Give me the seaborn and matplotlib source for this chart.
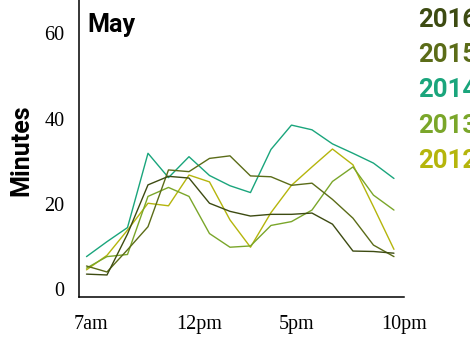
import matplotlib
matplotlib.use("Agg")
import matplotlib.pyplot as plt
import matplotlib.transforms as mtransforms
import pandas as pd
import seaborn as sns

# Minutes per hour of the day in May, by year
hours = list(range(7, 23))
years = ["2016", "2015", "2014", "2013", "2012"]
m2016 = [3.6, 3.4, 13.0, 24.5, 26.5, 26.1, 20.2, 18.3, 17.2, 17.6, 17.6, 17.9, 15.3, 9.0, 8.9, 8.5]
m2015 = [5.5, 4.1, 9.3, 14.7, 28.0, 27.6, 30.7, 31.3, 26.6, 26.4, 24.4, 24.9, 21.1, 16.7, 10.4, 7.7]
m2014 = [7.7, 11.2, 14.5, 31.9, 26.2, 31.1, 26.7, 24.3, 22.7, 32.8, 38.5, 37.4, 34.1, 31.9, 29.6, 26.0]
m2013 = [5.0, 7.7, 8.2, 21.8, 23.9, 21.8, 13.1, 9.9, 10.2, 15.0, 15.9, 18.6, 25.3, 28.7, 22.1, 18.6]
m2012 = [4.6, 8.0, 13.9, 20.2, 19.6, 26.8, 25.2, 16.3, 9.9, 18.0, 24.4, 28.7, 32.9, 29.2, 19.4, 9.4]
x_ticks = [7, 12, 17, 22]
x_labels = ["7am", "12pm", "5pm", "10pm"]
y_ticks = [0, 20, 40, 60]

colors = {"2016": "#3d4b12", "2015": "#5b6c18", "2014": "#1aa57c",
          "2013": "#7aa62a", "2012": "#b5b50c"}

df = pd.DataFrame({"hour": hours * 5,
                   "minutes": m2016 + m2015 + m2014 + m2013 + m2012,
                   "year": [y for y in years for _ in hours]})

sns.set_style("white")
W, H = 470, 339
fig = plt.figure(figsize=(W / 100, H / 100), dpi=100)
ax = fig.add_axes([78.5 / W, 42 / H, (404 - 78.5) / W, 297 / H])

sns.lineplot(data=df, x="hour", y="minutes", hue="year", palette=colors,
             hue_order=years[::-1], linewidth=1.0, legend=False, ax=ax)

ax.set_xlim(6.61, 22.49)
ax.set_ylim(-1.76, 67.8)
ax.set_xticks(x_ticks)
ax.set_xticklabels(x_labels, family="Liberation Serif", fontsize=14.5, ha="left")
ax.set_yticks(y_ticks)
ax.set_yticklabels([str(v) for v in y_ticks], family="Liberation Serif", fontsize=14.5)
ax.tick_params(axis="both", length=0, colors="black")
ax.tick_params(axis="y", pad=10)
ax.tick_params(axis="x", pad=13)
offset = mtransforms.ScaledTranslation(-12.5 / 100, 0, fig.dpi_scale_trans)
for lbl in ax.get_xticklabels():
    lbl.set_transform(lbl.get_transform() + offset)
ax.set_xlabel("")
ax.set_ylabel("")

sns.despine(ax=ax)
for s in ["left", "bottom"]:
    ax.spines[s].set_color("black")
    ax.spines[s].set_linewidth(1.1)

fig.text(87 / W, 1 - 31.7 / H, "May", family="Roboto", weight="bold",
         fontsize=18, color="black", va="baseline", ha="left")
fig.text(21 / W, 1 - 150 / H, "Minutes", family="Roboto", weight="bold",
         fontsize=18, color="black", rotation=90, va="center", ha="center")

for i, yr in enumerate(years):
    fig.text(418 / W, 1 - (20 + 35.2 * i) / H, yr, color=colors[yr],
             family="Roboto", weight="bold", fontsize=18.5, va="center", ha="left")

fig.savefig("out.png", dpi=100)
